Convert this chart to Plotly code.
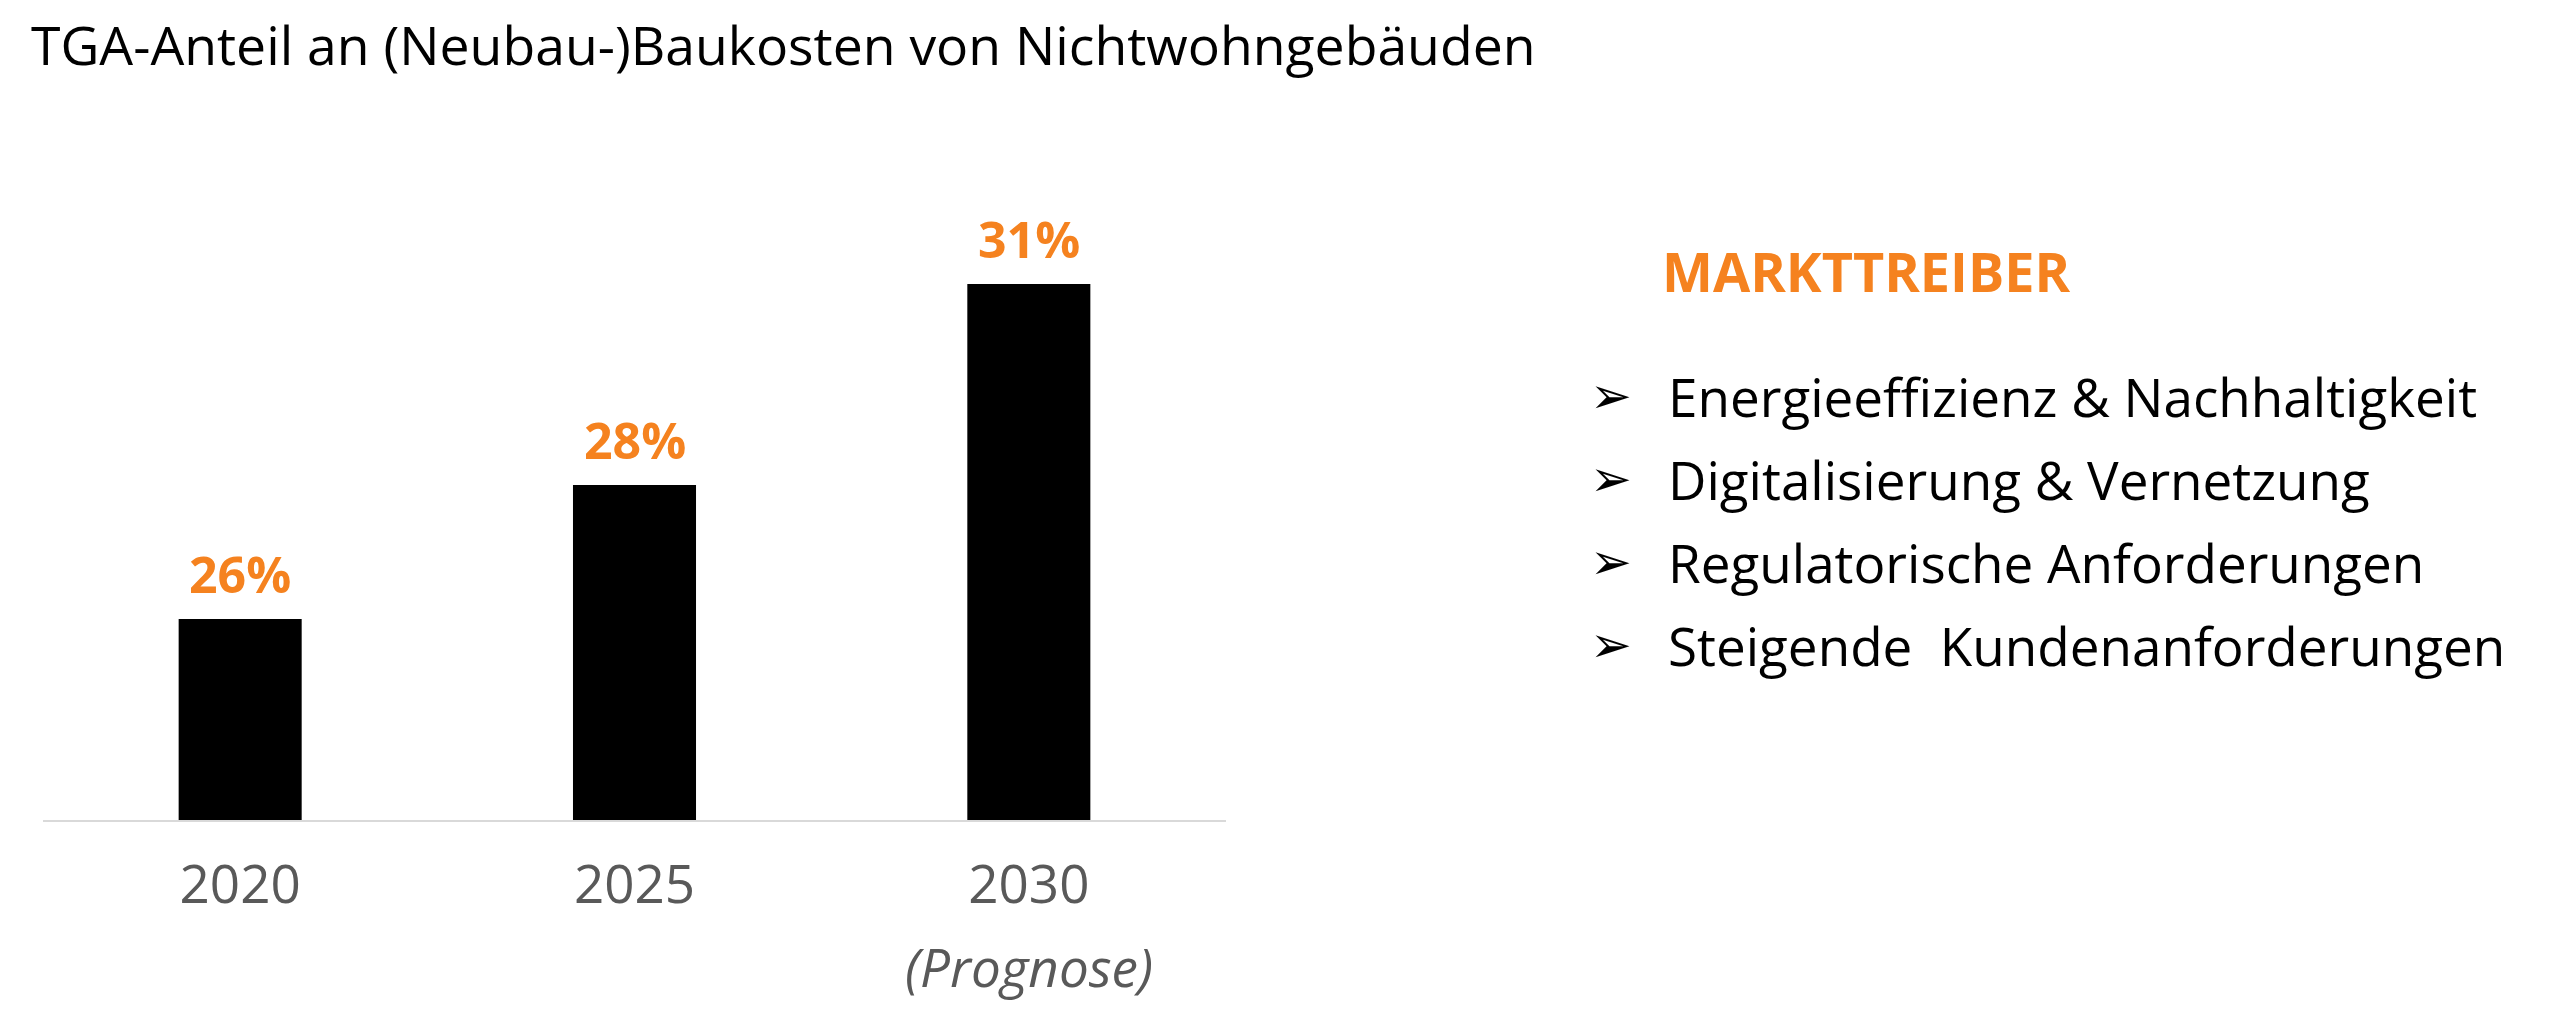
import plotly.graph_objects as go

# chart data:
years = ["2020", "2025", "2030"]
shares = [26, 28, 31]
shareLabels = ["26%", "28%", "31%"]
forecastYear = "2030"
forecastNote = "(Prognose)"

title = "TGA-Anteil an (Neubau-)Baukosten von Nichtwohngebäuden"
driversHeading = "MARKTTREIBER"
drivers = ["Energieeffizienz & Nachhaltigkeit",
           "Digitalisierung & Vernetzung",
           "Regulatorische Anforderungen",
           "Steigende\u00a0 Kundenanforderungen"]

# page size and colours:
W = 2560
H = 1023
PAGE_MARGIN = 8   # default body margin of the html page
orange = "#F5821F"
grey = "#595959"
font = "Open Sans"

# screen pixel -> paper fraction
def px(x):
    return (x - PAGE_MARGIN) / W

def py(y):
    return 1 - (y - PAGE_MARGIN) / H

fig = go.Figure()
fig.add_trace(go.Bar(x = years, y = shares, marker = dict(color = "black", line = dict(width = 0)),
                     hoverinfo = "skip"))

# value labels above the bars (annotations on a category axis take the category index):
for i, (share, label) in enumerate(zip(shares, shareLabels)):
    fig.add_annotation(x = i, y = share, text = "<b>" + label + "</b>", showarrow = False,
                       yanchor = "bottom", yshift = 9, font = dict(family = font, size = 50, color = orange))

# forecast note under the last year:
fig.add_annotation(x = years.index(forecastYear), xref = "x", y = 0, yref = "y domain",
                   text = "<i>" + forecastNote + "</i>", showarrow = False, yanchor = "middle", yshift = -146,
                   font = dict(family = font, size = 53, color = grey))

# market drivers on the right:
fig.add_annotation(x = px(1660), y = py(271), xref = "paper", yref = "paper", text = "<b>" + driversHeading + "</b>",
                   showarrow = False, xanchor = "left", yanchor = "middle",
                   font = dict(family = font, size = 54, color = orange))
for i, driver in enumerate(drivers):
    yPos = 396 + i * 83
    fig.add_annotation(x = px(1588), y = py(yPos), xref = "paper", yref = "paper", text = "\u27a2",
                       showarrow = False, xanchor = "left", yanchor = "middle",
                       font = dict(family = "DejaVu Sans", size = 50, color = "black"))
    fig.add_annotation(x = px(1666), y = py(yPos), xref = "paper", yref = "paper", text = driver,
                       showarrow = False, xanchor = "left", yanchor = "middle",
                       font = dict(family = font, size = 53, color = "black"))

fig.update_layout(width = W, height = H, margin = dict(l = 0, r = 0, t = 0, b = 0),
                  paper_bgcolor = "white", plot_bgcolor = "white", showlegend = False, bargap = 0.688,
                  title = dict(text = title, x = px(31), xref = "container", xanchor = "left",
                               y = py(46), yref = "container", yanchor = "middle",
                               font = dict(family = font, size = 53.5, color = "black")))
fig.update_xaxes(type = "category", range = [-0.5, len(years) - 0.5], domain = [px(43), px(1226)],
                 showline = True, linecolor = "#D9D9D9", linewidth = 2, showgrid = False, zeroline = False,
                 ticks = "", ticklabelstandoff = 17, tickfont = dict(family = font, size = 53, color = grey))
fig.update_yaxes(domain = [py(820), py(150)], range = [23, 33], visible = False)

fig.write_html("out.html")
